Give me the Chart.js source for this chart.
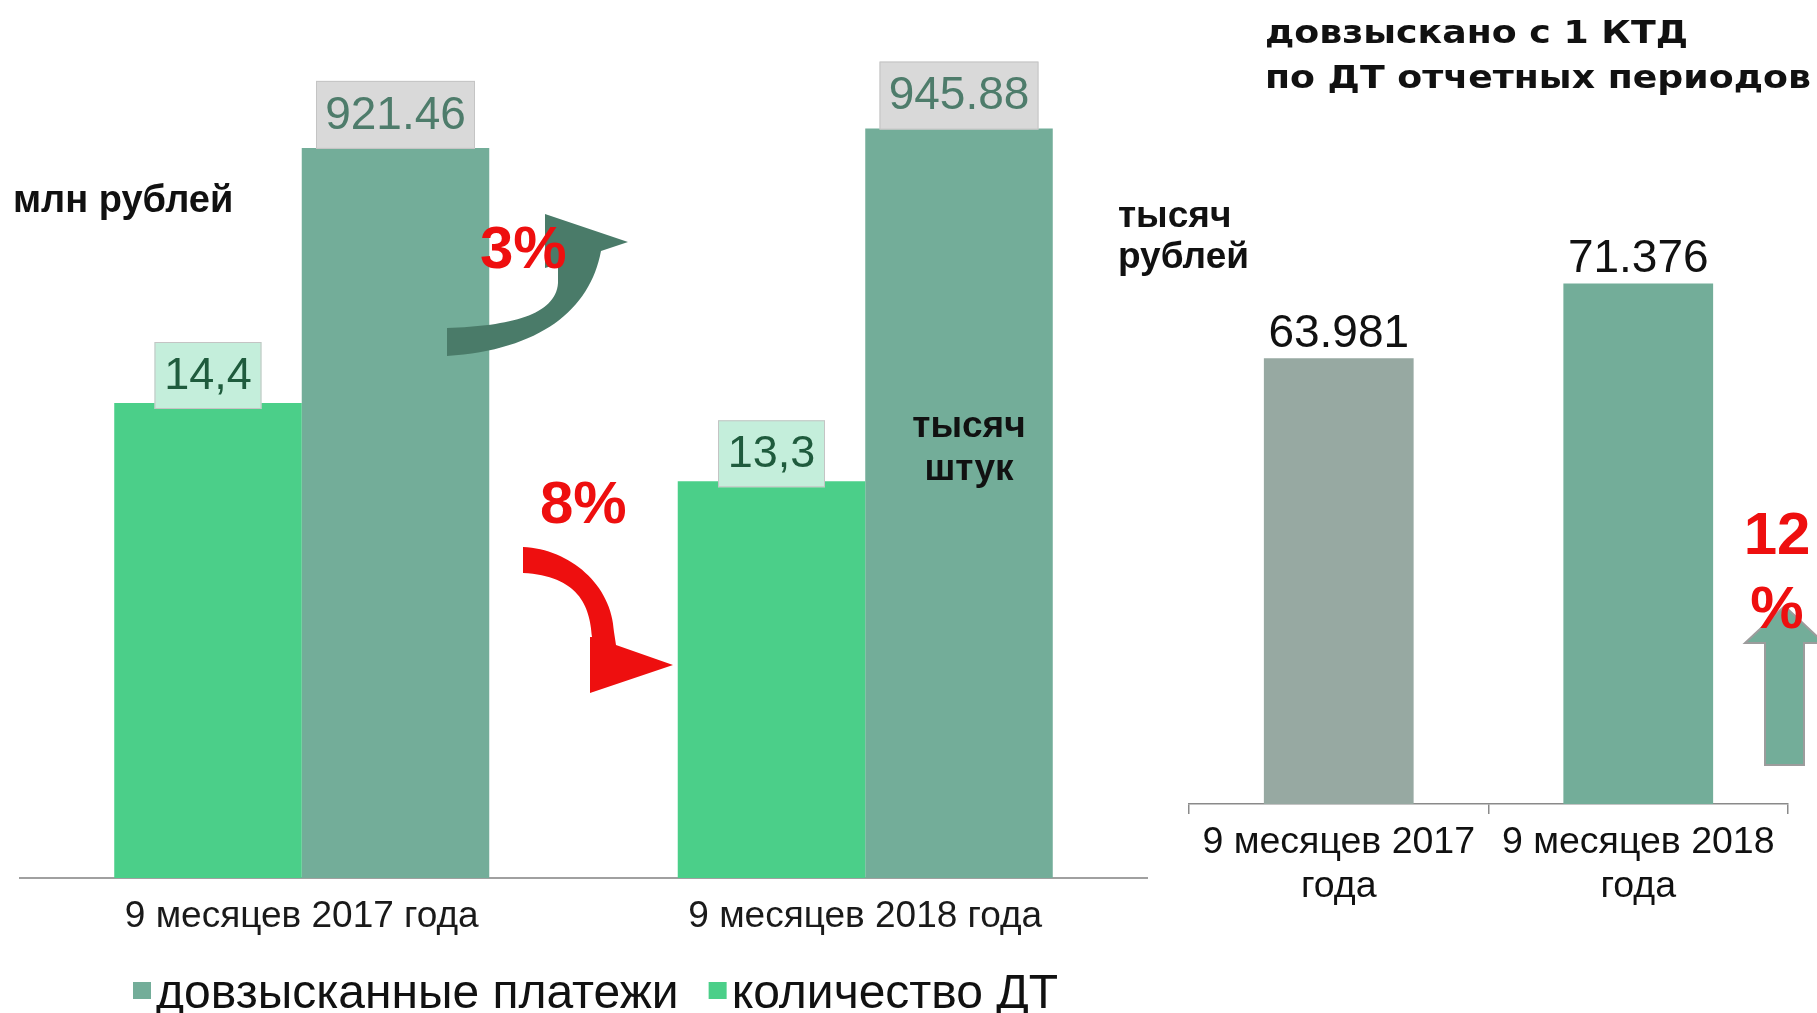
<!DOCTYPE html>
<html lang="ru">
<head>
<meta charset="utf-8">
<title>Довзысканные платежи</title>
<script src="https://cdn.jsdelivr.net/npm/chart.js@4.4.1/dist/chart.umd.min.js"></script>
<style>
  html, body { margin: 0; padding: 0; background: #fff; overflow: hidden; }
  .panel { position: absolute; top: 0; }
  #left-panel { left: 0; width: 1150px; height: 1013px; }
  #right-panel { left: 1100px; width: 717px; height: 1013px; }
</style>
</head>
<body>
<div class="panel" id="left-panel"><canvas id="left-chart" width="1150" height="1013"></canvas></div>
<div class="panel" id="right-panel"><canvas id="right-chart" width="717" height="1013"></canvas></div>
<script>
(function () {
  "use strict";

  // Данные
  const periods = ["9 месяцев 2017 года", "9 месяцев 2018 года"];
  const periodsWrapped = [["9 месяцев 2017", "года"], ["9 месяцев 2018", "года"]];
  const seriesNames = ["количество ДТ", "довзысканные платежи"];
  const declarationsThousand = [14.4, 13.3];   // тысяч штук
  const paymentsMln = [921.46, 945.88];        // млн рублей
  const perDeclarationThousand = [63.981, 71.376]; // тысяч рублей с 1 КТД
  const changes = ["3%", "8%", "12", "%"];
  const titleLines = ["довзыскано с 1 КТД", "по ДТ отчетных периодов"];

  // Оси (диапазоны подобраны под высоты столбцов на рисунке)
  const paymentsAxis = { min: 0, max: 1032.4 };
  const countAxis = { min: 7.725, max: 19.22 };
  const perDeclAxis = { min: 20, max: 87.5 };

  const FONT = "'Liberation Sans', Arial, sans-serif";
  const TITLE_FONT = "bold 32px 'DejaVu Sans', Verdana, sans-serif";
  const GREEN = "#4bcf89";
  const TEAL = "#73ad99";
  const GREY_TEAL = "#97a9a2";
  const RED = "#ee0f0f";

  Chart.defaults.font.family = FONT;
  Chart.defaults.animation = false;

  function text(ctx, str, x, y, font, color, align) {
    ctx.font = font;
    ctx.fillStyle = color;
    ctx.textAlign = align || "left";
    ctx.textBaseline = "alphabetic";
    ctx.fillText(str, x, y);
  }

  // заголовок на слайде растянут: первая строка ~423px в ширину
  function drawTitle(ctx, x, baselines, width) {
    ctx.save();
    ctx.font = TITLE_FONT;
    const stretch = width / ctx.measureText(titleLines[0]).width;
    titleLines.forEach((line, i) => {
      ctx.save();
      ctx.translate(x, baselines[i]);
      ctx.scale(stretch, 1);
      ctx.font = TITLE_FONT;
      ctx.fillStyle = "#111";
      ctx.textAlign = "left";
      ctx.textBaseline = "alphabetic";
      ctx.fillText(line, 0, 0);
      ctx.restore();
    });
    ctx.restore();
  }

  function labelBox(ctx, bar, str, st) {
    const x = bar.x - st.w / 2;
    const y = bar.y + st.drop - st.h;
    ctx.fillStyle = st.fill;
    ctx.fillRect(x, y, st.w, st.h);
    ctx.strokeStyle = "#c4c4c4";
    ctx.lineWidth = 1;
    ctx.strokeRect(x + 0.5, y + 0.5, st.w - 1, st.h - 1);
    ctx.font = st.font;
    ctx.fillStyle = st.color;
    ctx.textAlign = "center";
    ctx.textBaseline = "middle";
    ctx.fillText(str, bar.x, y + st.h / 2 + 1);
  }

  const leftDeco = {
    id: "leftDeco",
    afterDatasetsDraw(chart) {
      const ctx = chart.ctx;
      ctx.save();

      // стрелка роста платежей
      ctx.fillStyle = "#4a7b69";
      ctx.beginPath();
      ctx.moveTo(447, 328);
      ctx.bezierCurveTo(510, 326, 556, 315, 558, 283);
      ctx.lineTo(558, 264);
      ctx.lineTo(545, 268);
      ctx.lineTo(545, 214);
      ctx.lineTo(628, 242);
      ctx.lineTo(601, 251);
      ctx.bezierCurveTo(590, 310, 540, 350, 447, 356);
      ctx.closePath();
      ctx.fill();

      // стрелка снижения количества ДТ
      ctx.fillStyle = RED;
      ctx.beginPath();
      ctx.moveTo(523, 547);
      ctx.bezierCurveTo(570, 549, 612, 585, 614, 632);
      ctx.lineTo(616, 645);
      ctx.lineTo(673, 665);
      ctx.lineTo(590, 693);
      ctx.lineTo(590, 637);
      ctx.lineTo(592, 637);
      ctx.bezierCurveTo(590, 605, 578, 576, 523, 573);
      ctx.closePath();
      ctx.fill();

      text(ctx, changes[0], 480, 268, "bold 60px " + FONT, RED);
      text(ctx, changes[1], 540, 523, "bold 60px " + FONT, RED);

      // подписи значений
      const styles = [
        { w: 107, h: 67, drop: 6, fill: "#c4eedb", color: "#1f5b3d", font: "45px " + FONT,
          fmt: (v) => v.toFixed(1).replace(".", ",") },
        { w: 159, h: 68, drop: 1, fill: "#d9d9d9", color: "#4e7c6b", font: "46px " + FONT,
          fmt: (v) => v.toFixed(2) }
      ];
      chart.data.datasets.forEach((ds, di) => {
        chart.getDatasetMeta(di).data.forEach((bar, i) => {
          labelBox(ctx, bar, styles[di].fmt(ds.data[i]), styles[di]);
        });
      });

      text(ctx, "млн рублей", 13, 212, "bold 38px " + FONT, "#111");
      const unitBar = chart.getDatasetMeta(1).data[1];
      text(ctx, "тысяч", unitBar.x + 10, 437, "bold 37px " + FONT, "#111", "center");
      text(ctx, "штук", unitBar.x + 10, 480, "bold 37px " + FONT, "#111", "center");

      // легенда
      let lx = 133;
      [1, 0].forEach((di) => {
        const ds = chart.data.datasets[di];
        ctx.fillStyle = ds.backgroundColor;
        ctx.fillRect(lx, 982, 18, 17);
        ctx.font = "48px " + FONT;
        const w = ctx.measureText(ds.label).width;
        text(ctx, ds.label, lx + 23, 1008, "48px " + FONT, "#111");
        lx += 23 + w + 30;
      });

      ctx.restore();
    }
  };

  const rightDeco = {
    id: "rightDeco",
    afterDatasetsDraw(chart) {
      const ctx = chart.ctx;
      ctx.save();

      const meta = chart.getDatasetMeta(0);
      meta.data.forEach((bar, i) => {
        text(ctx, chart.data.datasets[0].data[i].toFixed(3), bar.x, bar.y - 11,
          "46px " + FONT, "#111", "center");
      });

      drawTitle(ctx, 165, [43, 88], 423);
      text(ctx, "тысяч", 18, 227, "bold 37px " + FONT, "#111");
      text(ctx, "рублей", 18, 268, "bold 37px " + FONT, "#111");

      // стрелка вверх
      const cx = 684.5;
      ctx.beginPath();
      ctx.moveTo(cx, 606);
      ctx.lineTo(cx + 39.5, 643);
      ctx.lineTo(cx + 19.5, 643);
      ctx.lineTo(cx + 19.5, 765);
      ctx.lineTo(cx - 19.5, 765);
      ctx.lineTo(cx - 19.5, 643);
      ctx.lineTo(cx - 39.5, 643);
      ctx.closePath();
      ctx.fillStyle = TEAL;
      ctx.fill();
      ctx.strokeStyle = "#9c9c9c";
      ctx.lineWidth = 2;
      ctx.stroke();

      text(ctx, changes[2], 677, 554, "bold 60px " + FONT, RED, "center");
      text(ctx, changes[3], 677, 628, "bold 60px " + FONT, RED, "center");

      ctx.restore();
    }
  };

  new Chart(document.getElementById("left-chart"), {
    type: "bar",
    data: {
      labels: periods,
      datasets: [
        { label: seriesNames[0], data: declarationsThousand, backgroundColor: GREEN, yAxisID: "yCount" },
        { label: seriesNames[1], data: paymentsMln, backgroundColor: TEAL, yAxisID: "yPay" }
      ]
    },
    options: {
      responsive: false,
      categoryPercentage: 0.6655,
      barPercentage: 1,
      layout: { padding: { left: 20, right: 3, top: 60, bottom: 0 } },
      plugins: { legend: { display: false }, tooltip: { enabled: false } },
      scales: {
        x: {
          grid: { display: false },
          border: { display: true, color: "#a0a0a0", width: 2 },
          ticks: { color: "#1a1a1a", padding: 9, font: { size: 37 } },
          afterFit(scale) { scale.height = 135; }
        },
        yPay: { display: false, min: paymentsAxis.min, max: paymentsAxis.max },
        yCount: { display: false, min: countAxis.min, max: countAxis.max }
      }
    },
    plugins: [leftDeco]
  });

  new Chart(document.getElementById("right-chart"), {
    type: "bar",
    data: {
      labels: periodsWrapped,
      datasets: [
        { label: titleLines[0], data: perDeclarationThousand, backgroundColor: [GREY_TEAL, TEAL] }
      ]
    },
    options: {
      responsive: false,
      categoryPercentage: 0.5,
      barPercentage: 1,
      layout: { padding: { left: 89, right: 29, top: 120, bottom: 0 } },
      plugins: { legend: { display: false }, tooltip: { enabled: false } },
      scales: {
        x: {
          grid: { display: true, drawOnChartArea: false, drawTicks: true, tickLength: 10, color: "#8a8a8a", lineWidth: 1.5 },
          border: { display: true, color: "#8a8a8a", width: 1.5 },
          ticks: { color: "#111", padding: 7, font: { size: 37.5, lineHeight: 1.17 } },
          afterFit(scale) { scale.height = 209; }
        },
        y: { display: false, min: perDeclAxis.min, max: perDeclAxis.max }
      }
    },
    plugins: [rightDeco]
  });
})();
</script>
</body>
</html>
